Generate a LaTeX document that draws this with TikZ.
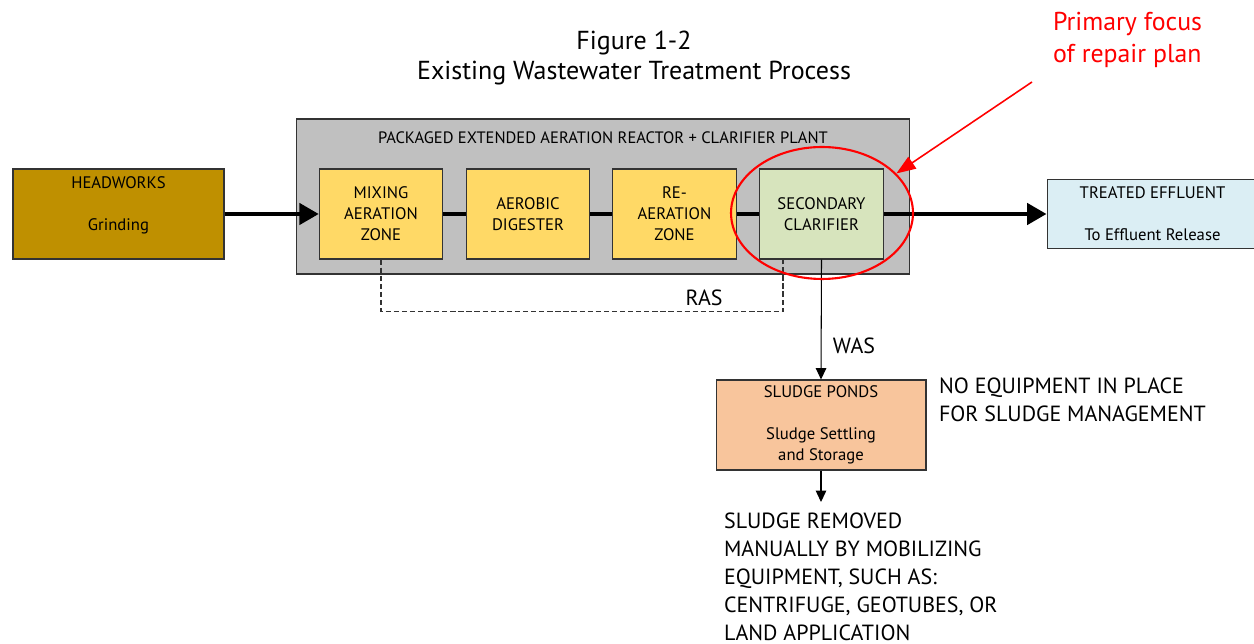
\documentclass[tikz,border=0pt]{standalone}
\usepackage{fontspec}
\setmainfont{PT Sans}
\usetikzlibrary{arrows.meta,shapes.geometric,positioning}

\definecolor{hwgold}{HTML}{BF9000}
\definecolor{zoneyellow}{HTML}{FFD966}
\definecolor{clargreen}{HTML}{D7E4BD}
\definecolor{effblue}{HTML}{DBEEF4}
\definecolor{pondorange}{HTML}{F8C59C}
\definecolor{plantgray}{HTML}{C0C0C0}

\begin{document}
\begin{tikzpicture}[x=0.02cm, y=-0.02cm]
	\tikzstyle{every node}=[align=center, inner sep=1pt]
	\tikzstyle{unit}=[draw=black!80, line width=0.6pt, minimum height=1.8cm, font=\fontsize{9.5}{12}\selectfont]
	\tikzstyle{zone}=[unit, fill=zoneyellow, minimum width=2.47cm]
	\tikzstyle{flow}=[line width=2.3pt]
	\tikzstyle{thin}=[line width=0.6pt]
	\tikzstyle{note}=[font=\fontsize{12.5}{15.6}\selectfont, align=left]
	\useasboundingbox (0,0) rectangle (1254,644);

	\node (title) [font=\fontsize{14.8}{17.6}\selectfont] at (634,58) {Figure 1-2\\Existing Wastewater Treatment Process};
	\node (focus) [anchor=west, align=left, text=red, font=\fontsize{14.7}{18.7}\selectfont] at (1051,40) {Primary focus\\of repair plan};

	\node (plant) [draw=black!80, line width=0.6pt, fill=plantgray, minimum width=12.28cm, minimum height=3.1cm] at (603,196.5) {};
	\node (plantlabel) [font=\fontsize{9.4}{12}\selectfont] at (603,138) {PACKAGED EXTENDED AERATION REACTOR + CLARIFIER PLANT};

	\node (hw) [unit, fill=hwgold, minimum width=4.22cm] at (118.5,214) {HEADWORKS\\\mbox{}\\Grinding\\\mbox{}};
	\node (mix) [zone] at (381,214) {MIXING\\AERATION\\ZONE};
	\node (aer) [zone] at (528,214) {AEROBIC\\DIGESTER};
	\node (rea) [zone] at (674.5,214) {RE-\\AERATION\\ZONE};
	\node (clar) [unit, fill=clargreen, minimum width=2.47cm] at (821.5,214) {SECONDARY\\CLARIFIER};
	\node (eff) [unit, fill=effblue, minimum width=4.22cm, minimum height=1.38cm] at (1152.5,214) {TREATED EFFLUENT\\\mbox{}\\To Effluent Release};
	\node (pond) [unit, fill=pondorange, minimum width=4.2cm] at (821,425) {SLUDGE PONDS\\\mbox{}\\Sludge Settling\\and Storage};

	\draw[flow, -{Triangle[length=11pt, width=12pt]}] (hw) -- (mix);
	\draw[flow] (mix) -- (aer);
	\draw[flow] (aer) -- (rea);
	\draw[flow] (rea) -- (clar);
	\draw[flow, -{Triangle[length=11pt, width=12pt]}] (clar) -- (eff);

	% return sludge
	\coordinate (rasup) at ([xshift=-0.77cm]clar.south);
	\draw[thin, black!80, dash pattern=on 3pt off 1.6pt] (mix.south) |- ([yshift=-1.04cm]rasup) -- (rasup);
	\node (ras) [font=\fontsize{12.5}{14}\selectfont] at (704,298) {RAS};

	% waste sludge
	\draw[thin, -{Triangle[length=6.5pt, width=6pt]}] (clar.south) -- (pond.north);
	\node (was) [font=\fontsize{12.5}{14}\selectfont] at (854,346) {WAS};
	\coordinate (out) at (821,502);
	\draw[thin, -{Triangle[length=6.5pt, width=6pt]}] (pond.south) -- (out);

	\node (noequip) [note, anchor=west] at (937,400) {NO EQUIPMENT IN PLACE\\FOR SLUDGE MANAGEMENT};
	\node (removal) [note, anchor=north west, font=\fontsize{12.5}{15.9}\selectfont] at (722,511) {SLUDGE REMOVED\\MANUALLY BY MOBILIZING\\EQUIPMENT, SUCH AS:\\CENTRIFUGE, GEOTUBES, OR\\LAND APPLICATION};

	% focus ring
	\node (ring) [draw=red, line width=1.2pt, ellipse, minimum width=3.64cm, minimum height=2.64cm, inner sep=0pt] at (822,213) {};
	\coordinate (ptr) at (1032,82);
	\draw[red, line width=0.9pt, -{Triangle[length=11pt, width=8pt]}] (ptr) -- (ring.28);
\end{tikzpicture}
\end{document}
